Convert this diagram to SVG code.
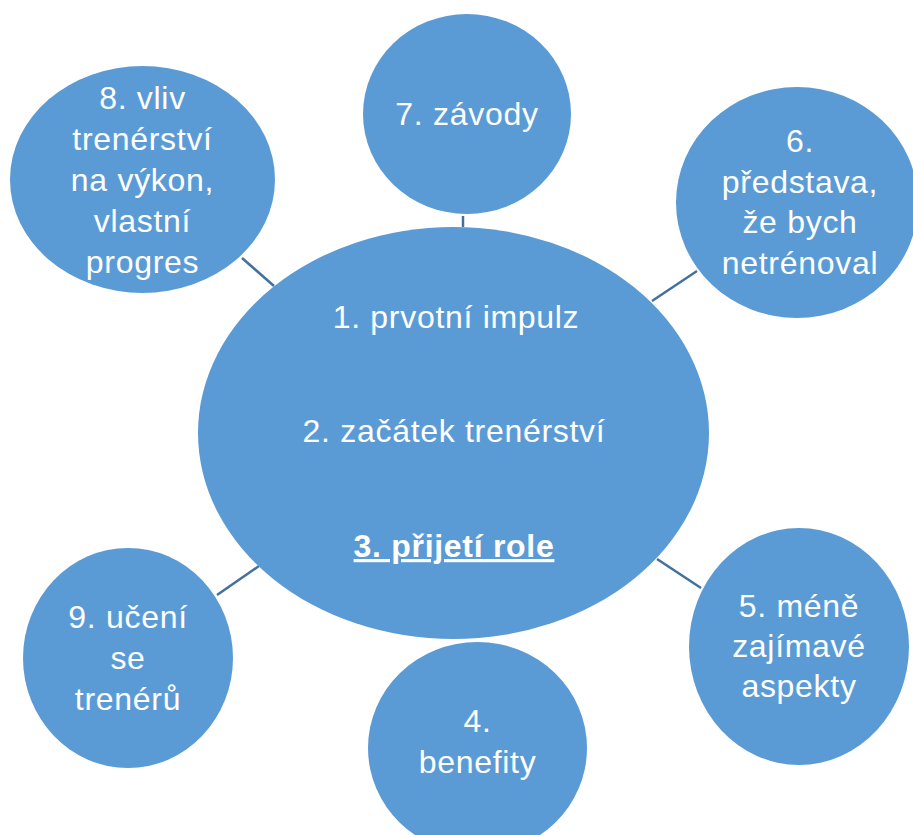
<svg xmlns="http://www.w3.org/2000/svg" width="913" height="835" viewBox="0 0 913 835">
  <style>
    .node { fill: #5B9BD5; }
    .lbl { font-family: "Liberation Sans", Arial, sans-serif; font-size: 32px; fill: #FFFFFF; text-anchor: middle; letter-spacing: 0.7px; }
    .bold { font-weight: bold; text-decoration: underline; }
    .conn { stroke: #41719C; stroke-width: 2.5; fill: none; }
  </style>
  <rect width="913" height="835" fill="#FFFFFF"/>
  <g id="connectors">
    <line class="conn" x1="463" y1="216" x2="463" y2="227"/>
    <line class="conn" x1="242" y1="258" x2="274" y2="286"/>
    <line class="conn" x1="652" y1="301" x2="697" y2="271"/>
    <line class="conn" x1="657" y1="559" x2="701" y2="588"/>
    <line class="conn" x1="217" y1="595" x2="259" y2="566"/>
  </g>
  <g id="node-center">
    <ellipse class="node" cx="453.5" cy="433" rx="255.5" ry="206"/>
    <text class="lbl" x="456" y="328">1. prvotní impulz</text>
    <text class="lbl" x="454" y="442">2. začátek trenérství</text>
    <text class="lbl bold" x="454" y="557">3. přijetí role</text>
  </g>
  <g id="node-7">
    <ellipse class="node" cx="467" cy="114" rx="104" ry="100"/>
    <text class="lbl" x="467" y="125">7. závody</text>
  </g>
  <g id="node-8">
    <ellipse class="node" cx="142.5" cy="179.5" rx="132.5" ry="113.5"/>
    <text class="lbl" x="142.5" y="109">8. vliv</text>
    <text class="lbl" x="142.5" y="150">trenérství</text>
    <text class="lbl" x="142.5" y="191">na výkon,</text>
    <text class="lbl" x="142.5" y="232">vlastní</text>
    <text class="lbl" x="142.5" y="273">progres</text>
  </g>
  <g id="node-6">
    <ellipse class="node" cx="797" cy="202.5" rx="121" ry="115.5"/>
    <text class="lbl" x="800" y="152">6.</text>
    <text class="lbl" x="800" y="192.5">představa,</text>
    <text class="lbl" x="800" y="233">že bych</text>
    <text class="lbl" x="800" y="273.5">netrénoval</text>
  </g>
  <g id="node-5">
    <ellipse class="node" cx="799" cy="646.5" rx="110" ry="118.5"/>
    <text class="lbl" x="799" y="617">5. méně</text>
    <text class="lbl" x="799" y="657">zajímavé</text>
    <text class="lbl" x="799" y="697">aspekty</text>
  </g>
  <g id="node-4">
    <ellipse class="node" cx="477.5" cy="748" rx="109.5" ry="106"/>
    <text class="lbl" x="477.5" y="732">4.</text>
    <text class="lbl" x="477.5" y="773">benefity</text>
  </g>
  <g id="node-9">
    <ellipse class="node" cx="128" cy="658" rx="105" ry="110"/>
    <text class="lbl" x="128" y="628">9. učení</text>
    <text class="lbl" x="128" y="669">se</text>
    <text class="lbl" x="128" y="710">trenérů</text>
  </g>
</svg>
